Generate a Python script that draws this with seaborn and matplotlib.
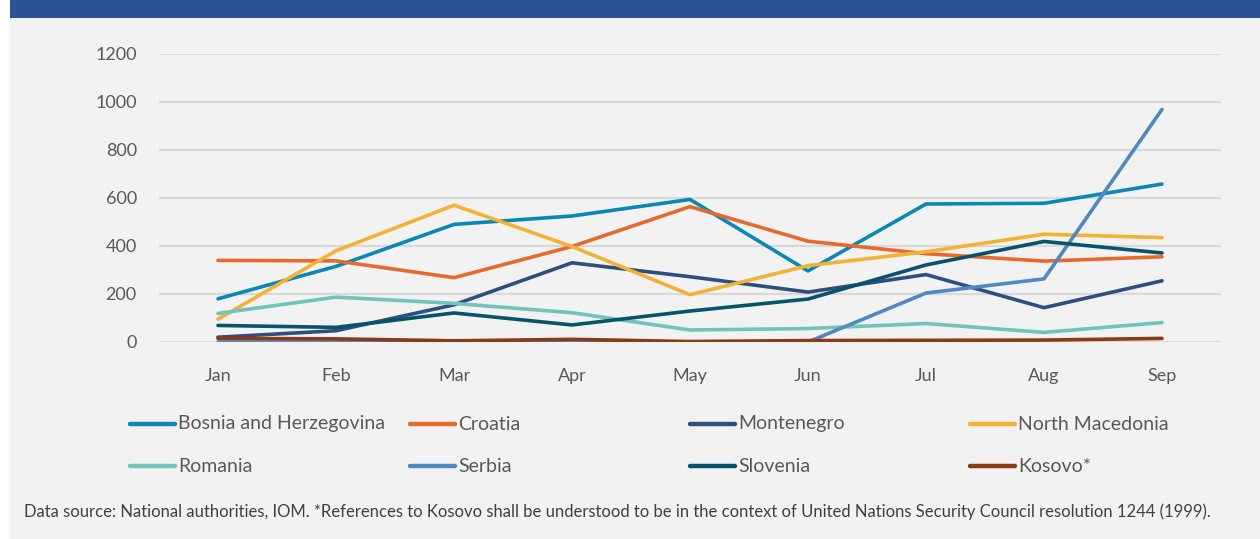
import pandas as pd
import matplotlib.pyplot as plt
import seaborn as sns
from matplotlib.lines import Line2D
from matplotlib.patches import Rectangle

# Monthly values
months = ["Jan", "Feb", "Mar", "Apr", "May", "Jun", "Jul", "Aug", "Sep"]
bosnia = [180, 315, 490, 525, 594, 296, 575, 578, 658]
croatia = [340, 338, 268, 398, 564, 420, 368, 337, 355]
montenegro = [20, 47, 155, 330, 272, 208, 281, 143, 255]
north_macedonia = [95, 380, 570, 398, 197, 318, 376, 449, 435]
romania = [119, 187, 161, 122, 50, 56, 77, 40, 81]
serbia = [0, 0, 0, 0, 0, 0, 204, 263, 969]
slovenia = [69, 61, 121, 71, 129, 179, 321, 419, 371]
kosovo = [15, 13, 5, 11, 2, 6, 7, 8, 15]

countries = ["Bosnia and Herzegovina", "Croatia", "Montenegro", "North Macedonia",
             "Romania", "Serbia", "Slovenia", "Kosovo*"]
series = [bosnia, croatia, montenegro, north_macedonia, romania, serbia, slovenia, kosovo]
colors = ["#0a87b5", "#e8692d", "#2e4f7d", "#f3b234",
          "#72c4b8", "#5088c0", "#07536b", "#8b3a13"]
palette = dict(zip(countries, colors))

rows = []
for c, vals in zip(countries, series):
    for i, v in enumerate(vals):
        rows.append({"month": i, "country": c, "value": v})
df = pd.DataFrame(rows)

sns.set_style("white")
plt.rcParams['font.family'] = ['Lato', 'DejaVu Sans']

W, H = 1260, 539
fig = plt.figure(figsize=(W / 100, H / 100), dpi=100, facecolor="white")
# grey panel and blue band
fig.patches.append(Rectangle((10 / W, 0), 1250 / W, 1, transform=fig.transFigure,
                             facecolor="#f2f2f2", edgecolor="none", zorder=-10))
fig.patches.append(Rectangle((10 / W, 1 - 18 / H), 1250 / W, 18 / H,
                             transform=fig.transFigure, facecolor="#2e5395",
                             edgecolor="none", zorder=-10))

ax = fig.add_axes([159 / W, 197 / H, 1062 / W, 288 / H])
ax.set_facecolor("none")
ax.set_zorder(5)

sns.lineplot(data=df, x="month", y="value", hue="country", hue_order=countries,
             palette=palette, linewidth=2.6, legend=False, ax=ax,
             solid_capstyle="round")

ax.set_xlim(-0.5, 8.5)
ax.set_ylim(0, 1200)
ax.set_yticks(range(0, 1201, 200))
ax.set_xticks(range(len(months)))
ax.set_xticklabels(months)
ax.yaxis.grid(True, color="#d9d9d9", linewidth=1.5)
ax.set_axisbelow(True)
for s in ax.spines.values():
    s.set_visible(False)
ax.tick_params(axis="both", length=0, labelsize=13, labelcolor="#595959")
ax.tick_params(axis="y", pad=16)
ax.tick_params(axis="x", pad=19)
ax.set_xlabel("")
ax.set_ylabel("")

# legend: 4 columns x 2 rows, fixed column width
for i, (c, col) in enumerate(zip(countries, colors)):
    r, k = divmod(i, 4)
    x0 = 130 + k * 280
    y0 = 1 - (424 + r * 42) / H
    fig.add_artist(Line2D([x0 / W, (x0 + 45) / W], [y0, y0], color=col, linewidth=3.2,
                          solid_capstyle="round", transform=fig.transFigure))
    fig.text((x0 + 48) / W, y0, c, fontsize=14, color="#595959", va="center", ha="left")

fig.text(24 / W, 1 - 512 / H,
         "Data source: National authorities, IOM. *References to Kosovo shall be understood "
         "to be in the context of United Nations Security Council resolution 1244 (1999).",
         fontsize=12, color="#404040", va="center", ha="left")

fig.savefig("out.png", dpi=100, facecolor=fig.get_facecolor())
